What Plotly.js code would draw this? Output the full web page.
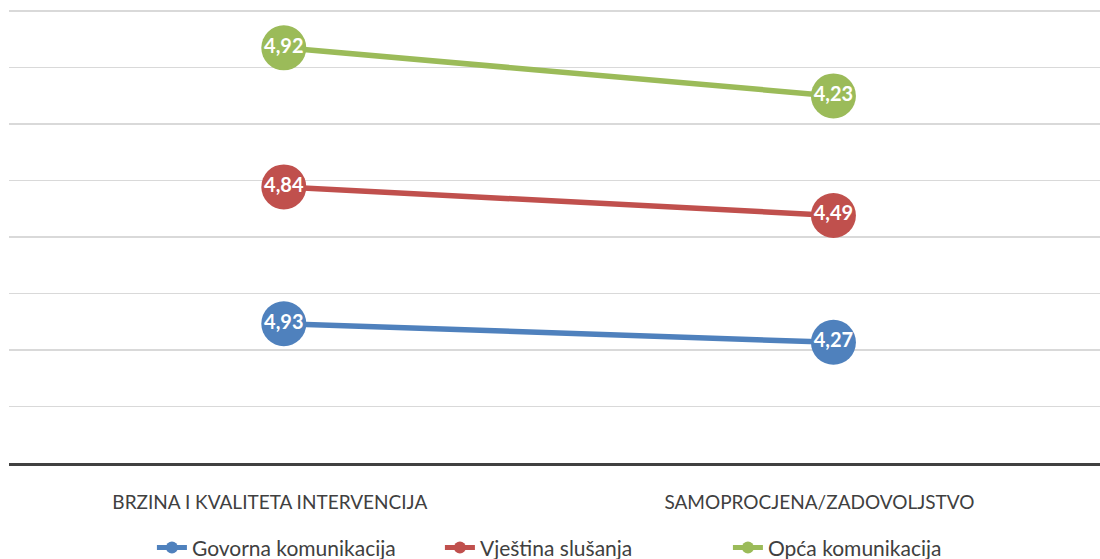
<!DOCTYPE html>
<html>
<head>
<meta charset="utf-8">
<script src="https://cdn.plot.ly/plotly-3.0.1.min.js"></script>
<style>html,body{margin:0;padding:0;background:#fff}#chart{width:1100px;height:559px}</style>
</head>
<body>
<div id="chart"></div>
<script>
const categories = ["BRZINA I KVALITETA INTERVENCIJA", "SAMOPROCJENA/ZADOVOLJSTVO"];
const seriesNames = ["Govorna komunikacija", "Vještina slušanja", "Opća komunikacija"];
const govorna = [4.93, 4.27];
const vjestina = [4.84, 4.49];
const opca = [4.92, 4.23];
const colors = ["#4F81BD", "#C0504D", "#9BBB59"];

const allSeries = [govorna, vjestina, opca];
const cum = [0, 0];
const traces = allSeries.map((vals, i) => {
  const y = vals.map((v, j) => { cum[j] += v; return cum[j]; });
  return {
    type: "scatter",
    mode: "lines+markers+text",
    name: seriesNames[i],
    x: categories,
    y: y,
    text: vals.map(v => v.toFixed(2).replace(".", ",")),
    textposition: "middle center",
    textfont: {family: "Lato, 'Open Sans', sans-serif", size: 20, color: "#ffffff", weight: "bold"},
    line: {color: colors[i], width: 5.5},
    marker: {color: colors[i], size: 45},
    cliponaxis: false,
    hoverinfo: "name+text"
  };
});

const layout = {
  width: 1100, height: 559,
  margin: {l: 9, r: 0, t: 8, b: 96},
  paper_bgcolor: "#ffffff", plot_bgcolor: "#ffffff",
  font: {family: "Lato, 'Open Sans', sans-serif", color: "#404040", size: 19},
  showlegend: true,
  legend: {orientation: "h", x: 0.131, xanchor: "left", yref: "container", y: 0.02, yanchor: "middle",
           font: {size: 21, color: "#404040"}, itemwidth: 30, itemsizing: "constant",
           entrywidth: 243, entrywidthmode: "pixels",
           traceorder: "normal", tracegroupgap: 0},
  xaxis: {type: "category", range: [-0.5, 1.485], showgrid: false, zeroline: false,
          showline: true, linecolor: "#404040", linewidth: 3, ticks: "",
          tickfont: {size: 19, color: "#404040"}, ticklabelshift: -14, ticklabelstandoff: 20},
  yaxis: {range: [0, 16.1], dtick: 2, showticklabels: false, showgrid: true,
          gridcolor: "#d9d9d9", gridwidth: 1.5, zeroline: false, showline: false, ticks: ""}
};

Plotly.newPlot("chart", traces, layout, {displayModeBar: false, staticPlot: true});
</script>
</body>
</html>
